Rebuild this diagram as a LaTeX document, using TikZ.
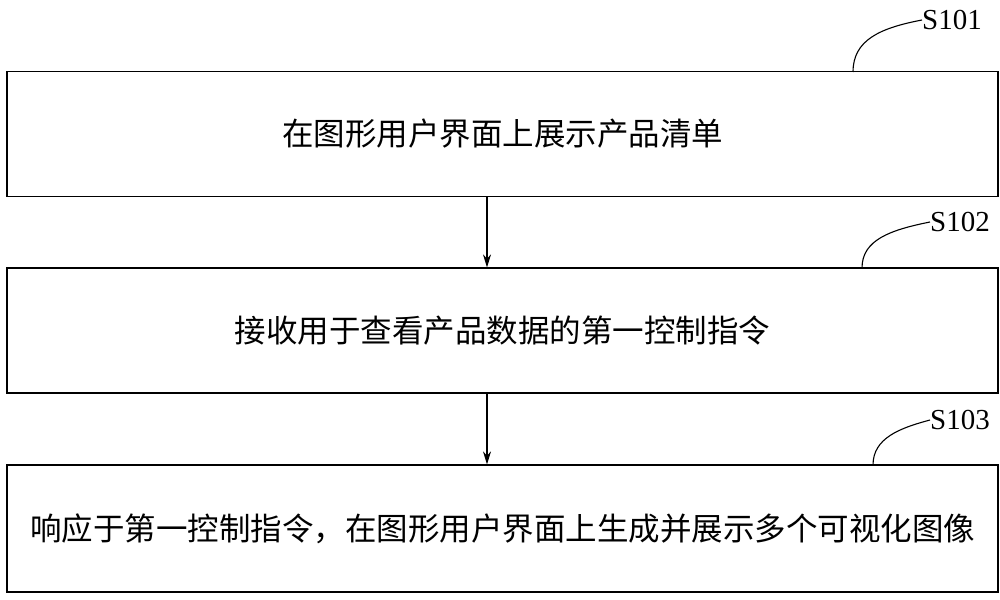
\documentclass[tikz,border=0pt]{standalone}
\usetikzlibrary{arrows.meta}
\usepackage{fontspec}
\setmainfont{Liberation Serif}
\newfontfamily\cjk{Noto Sans CJK SC}
\begin{document}
\begin{tikzpicture}[x=1pt,y=-1pt,
  stepbox/.style={draw,line width=1.2pt,minimum width=991pt,minimum height=125pt,inner sep=0pt,font=\cjk\fontsize{31.5}{34}\selectfont},
  lab/.style={font=\fontsize{29}{30}\selectfont,inner sep=0pt},
  arr/.style={-{Stealth[length=13pt,width=8pt]},line width=1.1pt}]
\useasboundingbox (0,0) rectangle (1000,599);
\node[stepbox] (b1) at (502.5,134) {在图形用户界面上展示产品清单};
\node[stepbox] (b2) at (502.5,330.5) {接收用于查看产品数据的第一控制指令};
\node[stepbox,minimum height=127pt] (b3) at (502.5,528.5) {响应于第一控制指令，在图形用户界面上生成并展示多个可视化图像};
\draw[arr] (b1.south -| 487,0) -- (b2.north -| 487,0);
\draw[arr] (b2.south -| 487,0) -- (b3.north -| 487,0);
\node[lab,anchor=west] (l1) at (922,20) {S101};
\node[lab,anchor=west] (l2) at (930,222) {S102};
\node[lab,anchor=west] (l3) at (930,420) {S103};
\coordinate (c1) at (853,72); \coordinate (c2) at (862,268); \coordinate (c3) at (873,465);
\draw[line width=1.1pt] (c1) .. controls (853,40) and (880,28) .. (l1.west);
\draw[line width=1.1pt] (c2) .. controls (862,240) and (890,230) .. (l2.west);
\draw[line width=1.1pt] (c3) .. controls (873,438) and (900,428) .. (l3.west);
\end{tikzpicture}
\end{document}
